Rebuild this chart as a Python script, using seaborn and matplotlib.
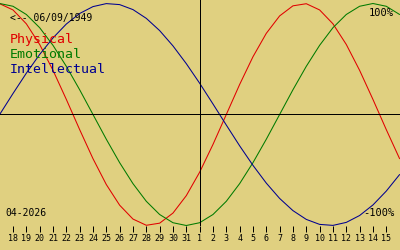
import matplotlib
matplotlib.use("Agg")
import matplotlib.pyplot as plt
import seaborn as sns
import pandas as pd

# Day labels (Mar 17 .. Apr 16, 2026); first and last points sit just outside the visible ticks
days = [17, 18, 19, 20, 21, 22, 23, 24, 25, 26, 27, 28, 29, 30, 31,
        1, 2, 3, 4, 5, 6, 7, 8, 9, 10, 11, 12, 13, 14, 15, 16]

physical = [0.998, 0.942, 0.817, 0.631, 0.398, 0.136, -0.136, -0.398, -0.631, -0.817,
            -0.942, -0.998, -0.979, -0.888, -0.731, -0.520, -0.270, 0.0, 0.270, 0.520,
            0.731, 0.888, 0.979, 0.998, 0.942, 0.817, 0.631, 0.398, 0.136, -0.136, -0.398]

emotional = [1.0, 0.975, 0.901, 0.782, 0.623, 0.434, 0.223, 0.0, -0.223, -0.434,
             -0.623, -0.782, -0.901, -0.975, -1.0, -0.975, -0.901, -0.782, -0.623, -0.434,
             -0.223, 0.0, 0.223, 0.434, 0.623, 0.782, 0.901, 0.975, 1.0, 0.975, 0.901]

intellectual = [0.0, 0.189, 0.372, 0.541, 0.690, 0.815, 0.910, 0.972, 0.999, 0.990,
                0.945, 0.866, 0.756, 0.618, 0.458, 0.282, 0.095, -0.095, -0.282, -0.458,
                -0.618, -0.756, -0.866, -0.945, -0.990, -0.999, -0.972, -0.910, -0.815, -0.690, -0.541]

series_names = ["Physical", "Emotional", "Intellectual"]
series_colors = ["#E00000", "#007A00", "#000090"]
birth_label = "<-- 06/09/1949"
month_label = "04-2026"
top_label = "100%"
bottom_label = "-100%"

pos = list(range(len(days)))
df = pd.concat([
    pd.DataFrame({"pos": pos, "value": vals, "series": name})
    for name, vals in zip(series_names, [physical, emotional, intellectual])
])

bg = "#E0D080"
sns.set_style("ticks")
plt.rcParams["font.family"] = ["DejaVu Sans Mono", "DejaVu Sans"]

fig = plt.figure(figsize=(4, 2.5), dpi=100, facecolor=bg)
ax = fig.add_axes([0, 24 / 250, 1, 226 / 250])
ax.set_facecolor(bg)

sns.lineplot(data=df, x="pos", y="value", hue="series", hue_order=series_names,
             palette=series_colors, ax=ax, legend=False,
             estimator=None, sort=False)
for line in ax.lines:
    line.set_clip_on(False)
    line.set_linewidth(0.75)
    line.set_antialiased(True)

ax.axhline(0, color="black", lw=0.72, antialiased=False)
ax.axvline(days.index(1), color="black", lw=0.72, antialiased=False)

ax.set_xlim(0.025, 30.03)
ax.set_ylim(-1.0045, 1.0315)

ax.set_xticks(pos[1:-1])
ax.set_xticklabels([str(d) for d in days[1:-1]], fontsize=6,
                   family="DejaVu Sans Mono")
ax.minorticks_off()
ax.tick_params(axis="x", which="major", bottom=True, direction="out", length=4,
               width=0.72, pad=2, colors="black")
ax.set_yticks([])
ax.set_xlabel("")
ax.set_ylabel("")
for s in ax.spines.values():
    s.set_visible(False)

def ftext(x, y, s, **kw):
    fig.text(x / 400, 1 - y / 250, s, va="baseline", **kw)

ftext(10, 20.7, birth_label, fontsize=7, color="black")
for name, col, yb in zip(series_names, series_colors, [42.5, 57.7, 72.7]):
    ftext(10, yb, name, fontsize=9.5, color=col)
ftext(394, 16, top_label, fontsize=7.5, color="black", ha="right")
ftext(394, 216, bottom_label, fontsize=7.5, color="black", ha="right")
ftext(5, 216, month_label, fontsize=7, color="black")

fig.savefig("out.png", dpi=100, facecolor=bg)
